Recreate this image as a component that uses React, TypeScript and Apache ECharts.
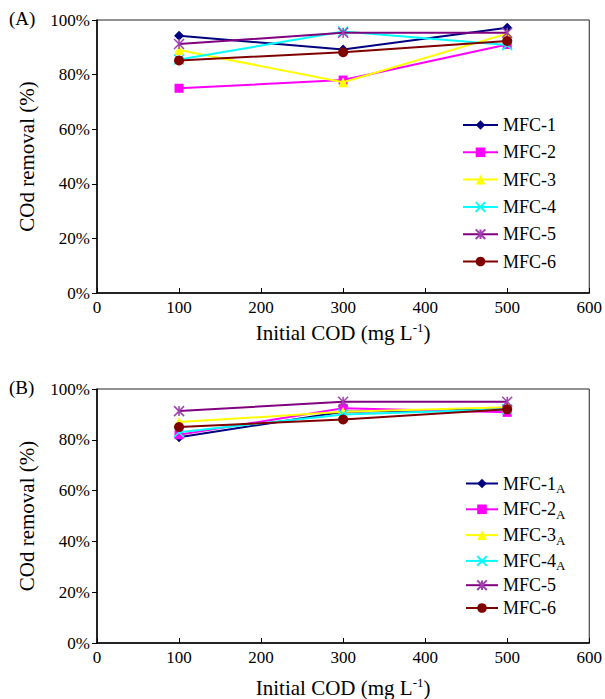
import React, { useEffect, useRef } from "react";
import * as echarts from "echarts";

const xValues = [100, 300, 500];
const yTickValues = [0, 20, 40, 60, 80, 100];
const xTickValues = [0, 100, 200, 300, 400, 500, 600];

// Panel A
const namesA = ["MFC-1", "MFC-2", "MFC-3", "MFC-4", "MFC-5", "MFC-6"];
const mfc1A = [94.2, 89.2, 97.2];
const mfc2A = [75.0, 78.0, 91.0];
const mfc3A = [89.0, 77.2, 95.0];
const mfc4A = [85.5, 95.8, 90.8];
const mfc5A = [91.2, 95.3, 95.3];
const mfc6A = [85.2, 88.2, 92.3];

// Panel B
const namesB = ["MFC-1A", "MFC-2A", "MFC-3A", "MFC-4A", "MFC-5 ", "MFC-6 "];
const mfc1B = [81.0, 91.0, 92.0];
const mfc2B = [82.0, 92.4, 90.8];
const mfc3B = [87.0, 91.0, 92.8];
const mfc4B = [83.0, 90.0, 92.0];
const mfc5B = [91.3, 95.0, 95.0];
const mfc6B = [85.0, 88.0, 92.0];

const FONT = "Liberation Serif";

const colors = ["#000080", "#FF00FF", "#FFFF00", "#00FFFF", "#800080", "#800000"];
const symbols = [
  "diamond",
  "rect",
  "triangle",
  "path://M0,0L10,10M10,0L0,10",
  "path://M0,0L10,10M10,0L0,10M5,0L5,10",
  "circle",
];
const symbolSizes = [10, 9, 10, 10, 10, 10];

function makeSeries(names: string[], data: number[][], axisIndex: number) {
  return names.map((name, i) => {
    const stroked = i === 3 || i === 4;
    return {
      name,
      type: "line",
      xAxisIndex: axisIndex,
      yAxisIndex: axisIndex,
      data: xValues.map((x, j) => [x, data[i][j]]),
      symbol: symbols[i],
      symbolSize: symbolSizes[i],
      showSymbol: true,
      lineStyle: { color: colors[i], width: 2 },
      itemStyle: stroked
        ? { color: colors[i], borderColor: i === 4 ? "#A040B0" : colors[i], borderWidth: 1.5 }
        : { color: colors[i], borderColor: colors[i], borderWidth: 0 },
      z: 2 + i,
    };
  });
}

function xAxisCfg(gridIndex: number, nameGap: number) {
  return {
    type: "value",
    gridIndex,
    min: 0,
    max: 600,
    interval: 100,
    name: "Initial COD (mg L{sup|-1})",
    nameLocation: "middle",
    nameGap,
    nameTextStyle: {
      fontFamily: FONT,
      fontSize: 21,
      color: "#000",
      rich: {
        sup: { fontFamily: FONT, fontSize: 13, color: "#000", padding: [0, 0, 10, 0] },
      },
    },
    axisLine: { show: true, onZero: false, lineStyle: { color: "#000", width: 1.5 } },
    axisTick: { show: true, inside: true, length: 5, lineStyle: { color: "#000", width: 1 } },
    axisLabel: {
      fontFamily: FONT,
      fontSize: 17,
      color: "#000",
      margin: 6,
      formatter: (v: number) => (xTickValues.includes(v) ? String(v) : ""),
    },
    splitLine: { show: false },
  };
}

function yAxisCfg(gridIndex: number) {
  return {
    type: "value",
    gridIndex,
    min: 0,
    max: 100,
    interval: 20,
    name: "COd removal (%)",
    nameLocation: "middle",
    nameGap: 60,
    nameRotate: 90,
    nameTextStyle: { fontFamily: FONT, fontSize: 21, color: "#000" },
    axisLine: { show: true, onZero: false, lineStyle: { color: "#000", width: 1.5 } },
    axisTick: { show: true, inside: false, length: 5, lineStyle: { color: "#000", width: 1 } },
    axisLabel: {
      fontFamily: FONT,
      fontSize: 17,
      color: "#000",
      margin: 7,
      formatter: (v: number) => (yTickValues.includes(v) ? v + "%" : ""),
    },
    splitLine: { show: false },
  };
}

export default function App() {
  const ref = useRef<HTMLDivElement>(null);

  useEffect(() => {
    if (!ref.current) return;
    const chart = echarts.init(ref.current, null, { renderer: "svg" });

    const dataA = [mfc1A, mfc2A, mfc3A, mfc4A, mfc5A, mfc6A];
    const dataB = [mfc1B, mfc2B, mfc3B, mfc4B, mfc5B, mfc6B];

    const legendBLabel = (name: string) => {
      const m = name.match(/^(MFC-\d)A$/);
      if (m) return m[1] + "{sub|A}";
      return name.trim();
    };

    const legendText = {
      fontFamily: FONT,
      fontSize: 18,
      color: "#000",
      lineHeight: 20,
      rich: {
        sub: {
          fontFamily: FONT,
          fontSize: 13,
          color: "#000",
          lineHeight: 20,
          padding: [10, 0, 0, 0],
        },
      },
    };

    chart.setOption({
      animation: false,
      backgroundColor: "#fff",
      grid: [
        { left: 97, right: 13, top: 20, height: 273, show: true, borderColor: "#222", borderWidth: 1, backgroundColor: "transparent" },
        { left: 97, right: 13, top: 389, height: 254, show: true, borderColor: "#222", borderWidth: 1, backgroundColor: "transparent" },
      ],
      xAxis: [xAxisCfg(0, 28), xAxisCfg(1, 33)],
      yAxis: [yAxisCfg(0), yAxisCfg(1)],
      legend: [
        {
          data: namesA,
          orient: "vertical",
          left: 457,
          top: 110,
          itemWidth: 35,
          itemHeight: 12,
          itemGap: 7.3,
          textStyle: legendText,
          selectedMode: false,
        },
        {
          data: namesB,
          orient: "vertical",
          left: 460,
          top: 467,
          itemWidth: 32,
          itemHeight: 12,
          itemGap: 2.8,
          textStyle: legendText,
          formatter: legendBLabel,
          selectedMode: false,
        },
      ],
      graphic: [
        { type: "text", left: 9, top: 9, style: { text: "(A)", fontFamily: FONT, fontSize: 19, fill: "#000" } },
        { type: "text", left: 9, top: 378, style: { text: "(B)", fontFamily: FONT, fontSize: 19, fill: "#000" } },
      ],
      series: [...makeSeries(namesA, dataA, 0), ...makeSeries(namesB, dataB, 1)],
    });

    return () => chart.dispose();
  }, []);

  return (
    <div
      ref={ref}
      style={{ position: "absolute", left: 0, top: 0, width: 605, height: 699 }}
    />
  );
}
